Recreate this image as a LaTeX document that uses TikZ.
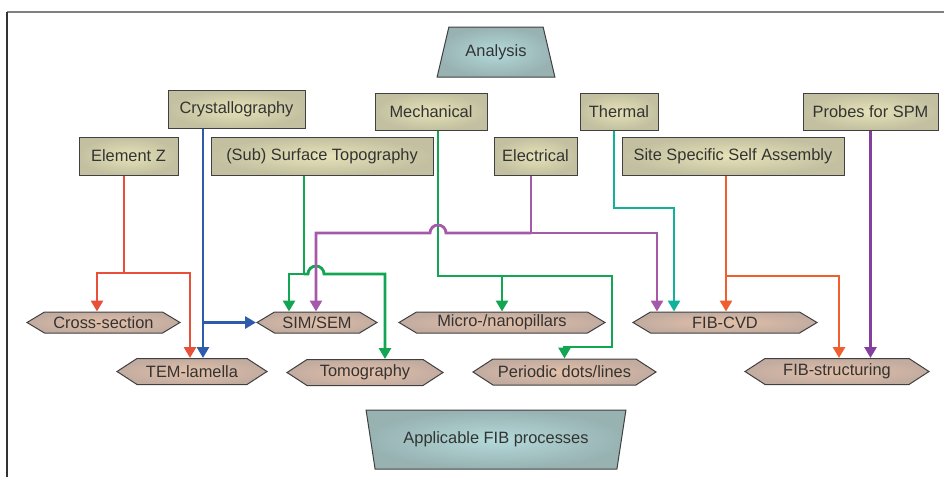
\documentclass[tikz,border=0pt]{standalone}
\usepackage{fontspec}
\setmainfont{Liberation Sans}
\usetikzlibrary{arrows.meta,shapes.geometric,shapes.symbols}

\definecolor{boxin}{HTML}{E6E2B8}
\definecolor{boxout}{HTML}{C2C0A0}
\definecolor{hexin}{HTML}{E4C0A8}
\definecolor{hexout}{HTML}{C2ACA0}
\definecolor{trin}{HTML}{B4DADA}
\definecolor{trout}{HTML}{98B2B2}
\definecolor{boxline}{HTML}{404040}
\definecolor{txt}{HTML}{333333}
\definecolor{zred}{HTML}{E8503A}
\definecolor{xblue}{HTML}{2E5CAA}
\definecolor{sgreen}{HTML}{12A552}
\definecolor{epurple}{HTML}{A45AA8}
\definecolor{tteal}{HTML}{10B29A}
\definecolor{sorange}{HTML}{F0602E}
\definecolor{ppurple}{HTML}{84409C}

\begin{document}
\begin{tikzpicture}[x=1pt,y=-1pt,font=\fontsize{16.4}{19}\selectfont,
    topic/.style={draw=boxline, line width=1pt, rectangle, inner color=boxin, outer color=boxout, minimum height=38pt, text=txt},
    proc/.style={draw=boxline, line width=1pt, signal, signal to=east and west, signal pointer angle=62, inner sep=2pt, inner color=hexin, outer color=hexout, minimum height=21pt, text=txt},
    proclow/.style={proc, minimum height=26pt, signal pointer angle=66},
    head/.style={draw=boxline, line width=1pt, trapezium, trapezium stretches=true, inner color=trin, outer color=trout, text=txt},
    link/.style={line width=2.8pt},
    arr/.style={link, -{Triangle[width=12pt,length=11pt]}}]

    \useasboundingbox (0,0) rectangle (944,477);
    \draw[line width=1.5pt, gray] (7,12) -- (944,12);
    \draw[line width=1.5pt, black!80] (7,12) -- (7,477);

    \node[head, minimum width=118pt, minimum height=50pt, trapezium angle=69] (analysis) at (496,52)
    { Analysis };

    %------------------------------------------------

    \node[topic, minimum width=137pt] (cryst) at (236.5,109)
    { Crystallography };

    \node[topic, minimum width=112pt, minimum height=37pt] (mech) at (431,111.5)
    { Mechanical };

    \node[topic, minimum width=78pt, minimum height=37pt] (therm) at (619,111.5)
    { Thermal };

    \node[topic, minimum width=135pt, minimum height=37pt] (probes) at (870.5,111.5)
    { Probes for SPM };

    \node[topic, minimum width=99pt] (elemz) at (128.5,156)
    { Element Z };

    \node[topic, minimum width=222pt] (topo) at (322,156)
    { (Sub) Surface Topography };

    \node[topic, minimum width=83pt] (elec) at (535.5,156)
    { Electrical };

    \node[topic, minimum width=222pt] (sitess) at (733,156)
    { Site Specific Self Assembly };

    %------------------------------------------------

    \node[proc, minimum width=153pt] (cross) at (103.5,322.5)
    { Cross-section };

    \node[proc, minimum width=120pt] (sim) at (317,322.5)
    { SIM/SEM };

    \node[proc, minimum width=206pt] (micro) at (502,322.5)
    { Micro-/nanopillars };

    \node[proc, minimum width=184pt] (fibcvd) at (725,322.5)
    { FIB-CVD };

    \node[proclow, minimum width=150pt] (tem) at (192,371.5)
    { TEM-lamella };

    \node[proclow, minimum width=156pt] (tomo) at (365,372.5)
    { Tomography };

    \node[proclow, minimum width=183pt] (periodic) at (564.5,372)
    { Periodic dots/lines };

    \node[proclow, minimum width=184pt] (fibstr) at (837,371.5)
    { FIB-structuring };

    %------------------------------------------------

    \node[head, shape border rotate=180, minimum width=260pt, minimum height=59pt, trapezium angle=72] (fib) at (496,439.5)
    { Applicable FIB processes };

    %------------------------------------------------

    \coordinate (zfoot) at ([xshift=-4.5pt]elemz.south);
    \coordinate (zsplit) at (zfoot |- 0,273);
    \coordinate (cfoot) at ([xshift=-33.5pt]cryst.south);
    \coordinate (tfoot) at ([xshift=-18pt]topo.south);
    \coordinate (tsplit) at (tfoot |- 0,274);
    \coordinate (ecross) at ([xshift=-1pt]sim.north);
    \coordinate (thop) at (ecross |- tsplit);
    \coordinate (mfoot) at ([xshift=7pt]mech.south);
    \coordinate (mturn) at (612,276);
    \coordinate (mdown) at (mturn |- 0,347);
    \coordinate (efoot) at ([xshift=-4.5pt]elec.south);
    \coordinate (ebar) at (efoot |- 0,233);
    \coordinate (mhop) at (mfoot |- ebar);
    \coordinate (hfoot) at ([xshift=-5pt]therm.south);
    \coordinate (sfoot) at ([xshift=-7pt]sitess.south);

    % Element Z
    \draw[arr, zred] (zfoot) -- (zsplit) -| ([xshift=-6.5pt]cross.north);
    \draw[arr, zred] (zsplit) -| ([xshift=-2pt]tem.north);

    % Crystallography
    \draw[arr, xblue] (cfoot) -- (cfoot |- tem.north);
    \draw[arr, xblue] (cfoot |- sim.west) -- (sim.west);

    % (Sub) Surface Topography
    \draw[arr, sgreen] (tfoot) -- (tsplit) -| ([xshift=-28pt]sim.north);
    \draw[arr, sgreen] (tsplit) -- ([xshift=-8pt]thop) arc (180:360:8) -| ([xshift=20pt]tomo.north);

    % Mechanical
    \draw[arr, sgreen] (mfoot) |- (mturn) -- (mdown) -| (periodic.north);
    \draw[arr, sgreen] (micro.north |- mturn) -- (micro.north);

    % Electrical
    \draw[link, epurple] (efoot) -- (ebar);
    \draw[arr, epurple] (ebar) -- ([xshift=8pt]mhop) arc (0:-180:8) -| (ecross);
    \draw[arr, epurple] (ebar) -| ([xshift=-68pt]fibcvd.north);

    % Thermal
    \draw[arr, tteal] (hfoot) -- (hfoot |- 0,208) -| ([xshift=-51pt]fibcvd.north);

    % Site Specific Self Assembly
    \draw[arr, sorange] (sfoot) -- (sfoot |- fibcvd.north);
    \draw[arr, sorange] (sfoot |- 0,276) -| ([xshift=2pt]fibstr.north);

    % Probes for SPM
    \draw[arr, ppurple] (probes.south) -- (probes.south |- fibstr.north);
\end{tikzpicture}
\end{document}
